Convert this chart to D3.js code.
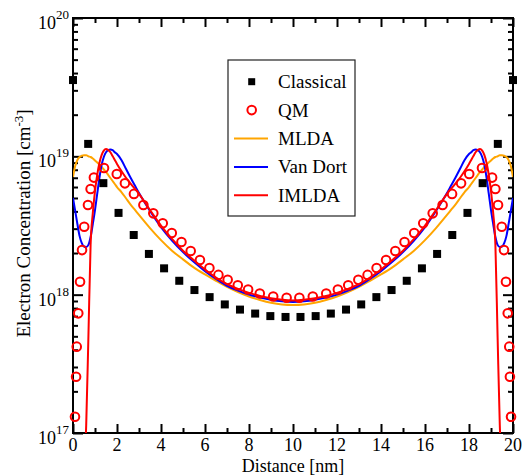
<!DOCTYPE html>
<html>
<head>
<meta charset="utf-8">
<script src="https://cdn.jsdelivr.net/npm/d3@7"></script>
<style>
  body { margin: 0; background: #fff; }
  text { font-family: "Liberation Serif", "Times New Roman", serif; fill: #000; }
</style>
</head>
<body>
<svg id="chart"></svg>
<script>
// classical points (nm, cm^-3)
const classicalX = [0, 0.69, 1.38, 2.07, 2.76, 3.45, 4.14, 4.83, 5.52, 6.21, 6.90, 7.59, 8.28, 8.97, 9.66,
                    10.34, 11.03, 11.72, 12.41, 13.10, 13.79, 14.48, 15.17, 15.86, 16.55, 17.24, 17.93, 18.62, 19.31, 20];
const classicalY = [3.56e19, 1.23e19, 6.4e18, 3.9e18, 2.7e18, 1.97e18, 1.55e18, 1.26e18, 1.08e18, 9.6e17, 8.5e17, 7.8e17, 7.3e17, 7.0e17, 6.9e17,
                    6.9e17, 7.0e17, 7.3e17, 7.8e17, 8.5e17, 9.6e17, 1.08e18, 1.26e18, 1.55e18, 1.97e18, 2.7e18, 3.9e18, 6.4e18, 1.23e19, 3.56e19];

// QM points
const qmX = [0.09, 0.14, 0.17, 0.24, 0.32, 0.41, 0.51, 0.68, 0.80, 0.95, 1.41, 1.99, 2.36, 2.77, 3.20, 3.65, 4.08, 4.49, 4.93, 5.35,
             5.77, 6.20, 6.61, 7.03, 7.49, 7.96, 8.49, 9.10, 9.71,
             10.29, 10.90, 11.51, 12.04, 12.51, 12.97, 13.39, 13.80, 14.23, 14.65, 15.07, 15.51, 15.92, 16.35, 16.80, 17.23,
             17.64, 18.01, 18.59, 19.05, 19.20, 19.32, 19.49, 19.59, 19.68, 19.76, 19.83, 19.86, 19.91];
const qmY = [1.31e17, 2.55e17, 4.21e17, 7.33e17, 1.24e18, 2.10e18, 3.10e18, 4.45e18, 5.81e18, 7.02e18, 8.24e18, 7.45e18, 6.38e18, 5.35e18,
             4.45e18, 3.87e18, 3.28e18, 2.79e18, 2.40e18, 2.07e18, 1.78e18, 1.56e18, 1.39e18, 1.28e18, 1.17e18, 1.09e18, 1.02e18, 9.7e17, 9.5e17,
             9.5e17, 9.7e17, 1.02e18, 1.09e18, 1.17e18, 1.28e18, 1.39e18, 1.56e18, 1.78e18, 2.07e18, 2.40e18, 2.79e18, 3.28e18, 3.87e18, 4.45e18,
             5.35e18, 6.38e18, 7.45e18, 8.24e18, 7.02e18, 5.81e18, 4.45e18, 3.10e18, 2.10e18, 1.24e18, 7.33e17, 4.21e17, 2.55e17, 1.31e17];

// model curves share one distance grid
const dist = [0, 0.1, 0.2, 0.3, 0.4, 0.5, 0.6, 0.7, 0.8, 0.9, 1.0, 1.1, 1.2, 1.3, 1.4, 1.5, 1.6, 1.7, 1.8, 1.9, 2.0, 2.2, 2.4, 2.6, 2.8, 3.0,
              3.5, 4.0, 4.5, 5.0, 5.5, 6.0, 6.5, 7.0, 7.5, 8.0, 8.5, 9.0, 9.5, 10,
              10.5, 11, 11.5, 12, 12.5, 13, 13.5, 14, 14.5, 15, 15.5, 16, 16.5, 17, 17.2, 17.4, 17.6, 17.8, 18.0,
              18.1, 18.2, 18.3, 18.4, 18.5, 18.6, 18.7, 18.8, 18.9, 19.0, 19.1, 19.2, 19.3, 19.4, 19.5, 19.6, 19.7, 19.8, 19.9, 20];

const mlda = [7.09e18, 8.51e18, 9.41e18, 9.89e18, 1.01e19, 1.02e19, 1.02e19, 1.00e19, 9.89e18, 9.64e18, 9.33e18, 9.02e18, 8.73e18, 8.37e18,
              8.03e18, 7.71e18, 7.33e18, 6.97e18, 6.63e18, 6.31e18, 6.00e18, 5.52e18, 5.00e18, 4.52e18, 4.13e18, 3.77e18, 3.03e18, 2.48e18,
              2.08e18, 1.80e18, 1.57e18, 1.40e18, 1.26e18, 1.14e18, 1.045e18, 9.70e17, 9.15e17, 8.73e17, 8.49e17, 8.42e17,
              8.49e17, 8.73e17, 9.15e17, 9.70e17, 1.045e18, 1.14e18, 1.26e18, 1.40e18, 1.57e18, 1.80e18, 2.08e18, 2.48e18, 3.03e18, 3.77e18,
              4.13e18, 4.52e18, 5.00e18, 5.52e18, 6.00e18, 6.31e18, 6.63e18, 6.97e18, 7.33e18, 7.71e18, 8.03e18, 8.37e18, 8.73e18, 9.02e18,
              9.33e18, 9.64e18, 9.89e18, 1.00e19, 1.02e19, 1.02e19, 1.01e19, 9.89e18, 9.41e18, 8.51e18, 7.09e18];

const vanDort = [5.0e18, 4.03e18, 3.24e18, 2.65e18, 2.36e18, 2.23e18, 2.21e18, 2.29e18, 2.61e18, 3.24e18, 4.09e18, 5.35e18, 6.97e18, 8.65e18,
                 9.89e18, 1.07e19, 1.11e19, 1.12e19, 1.11e19, 1.07e19, 1.04e19, 9.41e18, 8.17e18, 7.09e18, 6.21e18, 5.43e18, 4.03e18, 3.08e18,
                 2.46e18, 2.03e18, 1.72e18, 1.48e18, 1.30e18, 1.16e18, 1.07e18, 1.00e18, 9.54e17, 9.18e17, 8.95e17, 8.85e17,
                 8.95e17, 9.18e17, 9.54e17, 1.00e18, 1.07e18, 1.16e18, 1.30e18, 1.48e18, 1.72e18, 2.03e18, 2.46e18, 3.08e18, 4.03e18, 5.43e18,
                 6.21e18, 7.09e18, 8.17e18, 9.41e18, 1.04e19, 1.07e19, 1.11e19, 1.12e19, 1.11e19, 1.07e19, 9.89e18, 8.65e18, 6.97e18, 5.35e18,
                 4.09e18, 3.24e18, 2.61e18, 2.29e18, 2.21e18, 2.23e18, 2.36e18, 2.65e18, 3.24e18, 4.03e18, 5.0e18];

const imlda = [1e15, 2e15, 4e15, 8e15, 2e16, 5.1e16, 1.14e17, 4.94e17, 2.29e18, 3.89e18, 5.61e18, 7.33e18, 8.95e18, 1.02e19,
               1.10e19, 1.13e19, 1.11e19, 1.07e19, 1.005e19, 9.41e18, 8.81e18, 7.83e18, 7.03e18, 6.41e18, 5.86e18, 5.35e18, 4.09e18, 3.16e18,
               2.53e18, 2.08e18, 1.77e18, 1.52e18, 1.33e18, 1.19e18, 1.10e18, 1.03e18, 9.78e17, 9.41e17, 9.18e17, 9.08e17,
               9.18e17, 9.41e17, 9.78e17, 1.03e18, 1.10e18, 1.19e18, 1.33e18, 1.52e18, 1.77e18, 2.08e18, 2.53e18, 3.16e18, 4.09e18, 5.35e18,
               5.86e18, 6.41e18, 7.03e18, 7.83e18, 8.81e18, 9.41e18, 1.005e19, 1.07e19, 1.11e19, 1.13e19, 1.10e19, 1.02e19, 8.95e18, 7.33e18,
               5.61e18, 3.89e18, 2.29e18, 4.94e17, 1.14e17, 5.1e16, 2e16, 8e15, 4e15, 2e15, 1e15];

// ticks / legend
const xMajor = [0, 2, 4, 6, 8, 10, 12, 14, 16, 18, 20];
const xMinor = [1, 3, 5, 7, 9, 11, 13, 15, 17, 19];
const yDecades = [17, 18, 19, 20];
const legendNames = ["Classical", "QM", "MLDA", "Van Dort", "IMLDA"];

const width = 523, height = 475;
const margins = { top: 18, bottom: 42, left: 73, right: 10 };

const svg = d3.select('#chart')
    .attr('width', width)
    .attr('height', height);

const x = d3.scaleLinear()
    .domain([0, 20])
    .range([margins.left, width - margins.right]);
const y = d3.scaleLog()
    .domain([1e17, 1e20])
    .range([height - margins.bottom, margins.top]);

const yMajor = yDecades.map(p => Math.pow(10, p));
const yMinor = [];
yDecades.slice(0, -1).forEach(p => {
    for (let m = 2; m <= 9; m++) yMinor.push(m * Math.pow(10, p));
});

const x0 = x.range()[0], x1 = x.range()[1], y0 = y.range()[0], y1 = y.range()[1];

svg.append('defs').append('clipPath').attr('id', 'clip')
    .append('rect')
    .attr('x', x0).attr('y', y1)
    .attr('width', x1 - x0).attr('height', y0 - y1);

// ticks (all pointing inward)
function tickAxis(axis, tr, vals, size) {
    const g = svg.append('g')
        .attr('transform', tr)
        .call(axis.tickValues(vals).tickSize(-size).tickSizeOuter(0).tickFormat(''));
    g.select('.domain').remove();
    g.selectAll('line').attr('stroke', '#000').attr('stroke-width', 2);
    return g;
}
tickAxis(d3.axisBottom(x), `translate(0,${y0})`, xMajor, 9);
tickAxis(d3.axisBottom(x), `translate(0,${y0})`, xMinor, 5);
tickAxis(d3.axisTop(x), `translate(0,${y1})`, xMajor, 9);
tickAxis(d3.axisTop(x), `translate(0,${y1})`, xMinor, 5);
tickAxis(d3.axisLeft(y), `translate(${x0},0)`, yMajor, 10);
tickAxis(d3.axisLeft(y), `translate(${x0},0)`, yMinor, 5);
tickAxis(d3.axisRight(y), `translate(${x1},0)`, yMajor, 10);
tickAxis(d3.axisRight(y), `translate(${x1},0)`, yMinor, 5);

// x tick labels
svg.append('g').selectAll('text')
    .data(xMajor)
    .join('text')
    .attr('x', d => x(d))
    .attr('y', y0 + 18)
    .attr('text-anchor', 'middle')
    .attr('font-size', 18)
    .text(d => d);

// y tick labels 10^n
const yl = svg.append('g').selectAll('text')
    .data(yDecades)
    .join('text')
    .attr('x', x0 - 4)
    .attr('y', d => y(Math.pow(10, d)) + 11)
    .attr('text-anchor', 'end')
    .attr('font-size', 18);
yl.append('tspan').text('10');
yl.append('tspan').attr('dy', -10).attr('font-size', 13).text(d => d);

// frame
svg.append('rect')
    .attr('x', x0).attr('y', y1)
    .attr('width', x1 - x0).attr('height', y0 - y1)
    .attr('fill', 'none')
    .attr('stroke', '#000')
    .attr('stroke-width', 2);

// axis titles
svg.append('text')
    .attr('x', (x0 + x1) / 2)
    .attr('y', 472)
    .attr('text-anchor', 'middle')
    .attr('font-size', 18)
    .text('Distance [nm]');

const yt = svg.append('text')
    .attr('transform', `translate(30,${(y0 + y1) / 2 - 2}) rotate(-90)`)
    .attr('text-anchor', 'middle')
    .attr('font-size', 19);
yt.append('tspan').text('Electron Concentration [cm');
yt.append('tspan').attr('dy', -7).attr('font-size', 13).text('-3');
yt.append('tspan').attr('dy', 7).text(']');

// curves
const curves = [
    { vals: mlda, color: '#FFA500' },
    { vals: vanDort, color: '#0000FF' },
    { vals: imlda, color: '#FF0000' }
];
const line = d3.line()
    .curve(d3.curveMonotoneX)
    .x(d => x(d[0]))
    .y(d => y(d[1]));

svg.append('g').attr('clip-path', 'url(#clip)')
    .selectAll('path')
    .data(curves)
    .join('path')
    .attr('fill', 'none')
    .attr('stroke', d => d.color)
    .attr('stroke-width', 2)
    .attr('d', d => line(d3.zip(dist, d.vals)));

// classical squares
const sq = 8;
svg.append('g').selectAll('rect')
    .data(d3.zip(classicalX, classicalY))
    .join('rect')
    .attr('x', d => x(d[0]) - sq / 2)
    .attr('y', d => y(d[1]) - sq / 2)
    .attr('width', sq).attr('height', sq)
    .attr('fill', '#000');

// QM circles
svg.append('g').selectAll('circle')
    .data(d3.zip(qmX, qmY))
    .join('circle')
    .attr('cx', d => x(d[0]))
    .attr('cy', d => y(d[1]))
    .attr('r', 4.3)
    .attr('fill', 'none')
    .attr('stroke', '#FF0000')
    .attr('stroke-width', 2);

// legend
const lg = svg.append('g').attr('transform', 'translate(228,60)');
lg.append('rect')
    .attr('width', 127).attr('height', 156)
    .attr('fill', '#fff')
    .attr('stroke', '#222')
    .attr('stroke-width', 1.2);

const rowY = i => 21.7 + i * 28.4;
lg.selectAll('text')
    .data(legendNames)
    .join('text')
    .attr('x', 50)
    .attr('y', (d, i) => rowY(i) + 6.5)
    .attr('font-size', 19)
    .text(d => d);

lg.append('rect')
    .attr('x', 23.7 - 3.5).attr('y', rowY(0) - 3.5)
    .attr('width', 7).attr('height', 7)
    .attr('fill', '#000');
lg.append('circle')
    .attr('cx', 23.7).attr('cy', rowY(1))
    .attr('r', 4.3)
    .attr('fill', 'none')
    .attr('stroke', '#FF0000')
    .attr('stroke-width', 2);
lg.selectAll('line')
    .data(curves)
    .join('line')
    .attr('x1', 6).attr('x2', 40)
    .attr('y1', (d, i) => rowY(i + 2)).attr('y2', (d, i) => rowY(i + 2))
    .attr('stroke', d => d.color)
    .attr('stroke-width', 2)
</script>
</body>
</html>
